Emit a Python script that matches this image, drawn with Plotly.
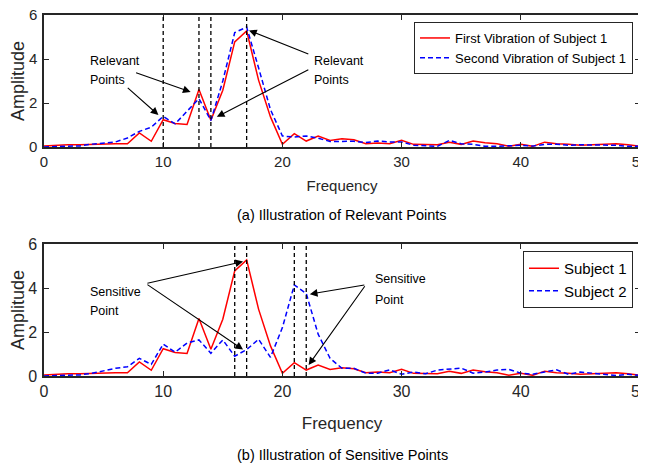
import plotly.graph_objects as go

freq = list(range(0, 51))

first_vib_s1 = [0.05, 0.08, 0.1, 0.1, 0.12, 0.15, 0.15, 0.15, 0.64, 0.26,
                1.24, 1.07, 1.02, 2.61, 1.22, 2.58, 4.78, 5.28, 3.04, 1.37,
                0.12, 0.61, 0.27, 0.50, 0.30, 0.37, 0.33, 0.15, 0.18, 0.15,
                0.30, 0.12, 0.12, 0.10, 0.22, 0.12, 0.27, 0.19, 0.15, 0.04,
                0.12, 0.03, 0.22, 0.15, 0.12, 0.08, 0.10, 0.12, 0.15, 0.10, 0.04]

second_vib_s1 = [0.0, 0.02, 0.03, 0.05, 0.13, 0.18, 0.23, 0.41, 0.71, 0.9,
                 1.39, 1.05, 1.65, 2.2, 1.2, 3.0, 5.2, 5.45, 3.6, 1.7,
                 0.5, 0.45, 0.5, 0.4, 0.25, 0.27, 0.26, 0.2, 0.27, 0.23,
                 0.23, 0.08, 0.06, 0.03, 0.30, 0.15, 0.12, 0.03, 0.03, 0.04,
                 0.08, 0.04, 0.12, 0.12, 0.08, 0.1, 0.1, 0.1, 0.08, 0.03, 0.03]

subject1 = first_vib_s1

subject2 = [0.0, 0.02, 0.03, 0.05, 0.12, 0.25, 0.35, 0.42, 0.8, 0.53,
            1.45, 1.08, 1.5, 1.64, 1.03, 1.64, 0.9, 1.2, 1.67, 0.85,
            2.2, 4.14, 3.75, 1.9, 0.8, 0.35, 0.35, 0.13, 0.13, 0.28,
            0.08, 0.18, 0.1, 0.27, 0.3, 0.36, 0.13, 0.18, 0.27, 0.3,
            0.13, 0.08, 0.18, 0.28, 0.08, 0.18, 0.13, 0.06, 0.02, 0.08, 0.02]

relevant_points = [10, 13, 14, 17]
sensitive_points = [16, 17, 21, 22]

x_ticks = [0, 10, 20, 30, 40, 50]
y_ticks = [0, 2, 4, 6]

# arrows: (head_x, head_y, tail_x, tail_y)
relevant_arrows = [(9.6, 1.45, 6.9, 2.75), (12.3, 2.5, 7.6, 3.4),
                   (17.2, 5.3, 22.3, 4.2), (14.5, 1.37, 22.3, 3.55)]
sensitive_arrows = [(16.7, 5.2, 8.55, 4.2), (16.7, 1.2, 8.55, 4.2),
                    (22.3, 3.72, 27.0, 4.15), (22.2, 0.5, 27.0, 4.15)]

# (x, y, text) of the annotation labels, one line each
relevant_labels = [(3.7, 3.91, "Relevant"), (3.7, 3.05, "Points"),
                   (22.5, 3.91, "Relevant"), (22.5, 3.05, "Points")]
sensitive_labels = [(3.7, 3.82, "Sensitive"), (3.7, 2.95, "Point"),
                    (27.6, 4.41, "Sensitive"), (27.6, 3.45, "Point")]

FONT = "Liberation Sans, Arial, sans-serif"
RED = "#ff0000"
BLUE = "#0000ff"
AX = "#262626"

W, H = 646, 463
OFF = 8  # page body margin offset


def px_x(p):
    return (p - OFF) / W


def px_y(p):
    return 1 - (p - OFF) / H


fig = go.Figure()

fig.add_trace(go.Scatter(x=freq, y=first_vib_s1, mode="lines", name="First Vibration of Subject 1",
                         line=dict(color=RED, width=1.5), xaxis="x", yaxis="y", legend="legend"))
fig.add_trace(go.Scatter(x=freq, y=second_vib_s1, mode="lines", name="Second Vibration of Subject 1",
                         line=dict(color=BLUE, width=1.5, dash="5px,3px"), xaxis="x", yaxis="y", legend="legend"))
fig.add_trace(go.Scatter(x=freq, y=subject1, mode="lines", name="Subject 1",
                         line=dict(color=RED, width=1.5), xaxis="x2", yaxis="y2", legend="legend2"))
fig.add_trace(go.Scatter(x=freq, y=subject2, mode="lines", name="Subject 2",
                         line=dict(color=BLUE, width=1.5, dash="5px,3px"), xaxis="x2", yaxis="y2", legend="legend2"))

shapes = []
for p in relevant_points:
    shapes.append(dict(type="line", xref="x", yref="y domain", x0=p, x1=p, y0=0, y1=1,
                       line=dict(color="black", width=1.3, dash="4px,3px"), layer="above"))
for p in sensitive_points:
    shapes.append(dict(type="line", xref="x2", yref="y2 domain", x0=p, x1=p, y0=0, y1=1,
                       line=dict(color="black", width=1.3, dash="4px,3px"), layer="above"))

annotations = []
for hx, hy, tx, ty in relevant_arrows:
    annotations.append(dict(x=hx, y=hy, ax=tx, ay=ty, xref="x", yref="y", axref="x", ayref="y",
                            text="", showarrow=True, arrowhead=2, arrowsize=1.4, arrowwidth=1.1,
                            arrowcolor="black"))
for hx, hy, tx, ty in sensitive_arrows:
    annotations.append(dict(x=hx, y=hy, ax=tx, ay=ty, xref="x2", yref="y2", axref="x2", ayref="y2",
                            text="", showarrow=True, arrowhead=2, arrowsize=1.4, arrowwidth=1.1,
                            arrowcolor="black"))

lab_font = dict(family=FONT, size=12.5, color="black")
for lx, ly, t in relevant_labels:
    annotations.append(dict(x=lx, y=ly, xref="x", yref="y", text=t, showarrow=False,
                            xanchor="left", yanchor="middle", font=lab_font))
for lx, ly, t in sensitive_labels:
    annotations.append(dict(x=lx, y=ly, xref="x2", yref="y2", text=t, showarrow=False,
                            xanchor="left", yanchor="middle", font=lab_font))

cx = px_x(342)
annotations += [
    dict(x=cx, y=px_y(215), xref="paper", yref="paper", text="(a) Illustration of Relevant Points",
         showarrow=False, xanchor="center", yanchor="middle", font=dict(family=FONT, size=14.5, color="black")),
    dict(x=cx, y=px_y(455), xref="paper", yref="paper", text="(b) Illustration of Sensitive Points",
         showarrow=False, xanchor="center", yanchor="middle", font=dict(family=FONT, size=14.5, color="black")),
]


def xaxis(dom_anchor, size_tick, size_title, standoff, tls):
    return dict(domain=[px_x(44), px_x(640)], anchor=dom_anchor, range=[0, 50], tickvals=x_ticks,
                ticks="inside", ticklen=5, tickcolor=AX, showline=True, linecolor=AX, linewidth=1.5,
                mirror="ticks", showgrid=False, zeroline=False, automargin=False,
                ticklabelstandoff=tls, ticklabeloverflow="allow",
                tickfont=dict(family=FONT, size=size_tick, color=AX),
                title=dict(text="Frequency", font=dict(family=FONT, size=size_title, color=AX),
                           standoff=standoff))


def yaxis(top, bottom, anchor, size_tick, size_title):
    return dict(domain=[px_y(bottom), px_y(top)], anchor=anchor, range=[0, 6], tickvals=y_ticks,
                ticks="inside", ticklen=5, tickcolor=AX, showline=True, linecolor=AX, linewidth=1.5,
                mirror="ticks", showgrid=False, zeroline=False, automargin=False,
                ticklabelstandoff=2, ticklabeloverflow="allow",
                tickfont=dict(family=FONT, size=size_tick, color=AX),
                title=dict(text="Amplitude", font=dict(family=FONT, size=size_title, color=AX), standoff=2))


fig.update_layout(
    width=W, height=H,
    margin=dict(l=0, r=0, t=0, b=0, autoexpand=False),
    paper_bgcolor="white", plot_bgcolor="white",
    xaxis=xaxis("y", 15, 15, 12, 0),
    yaxis=yaxis(15, 147, "x", 15, 18),
    xaxis2=xaxis("y2", 16, 17, 18, 0),
    yaxis2=yaxis(244, 376, "x2", 16, 18),
    shapes=shapes,
    annotations=annotations,
    legend=dict(x=px_x(633), y=px_y(22), xanchor="right", yanchor="top",
                bgcolor="white", bordercolor=AX, borderwidth=1,
                font=dict(family=FONT, size=13, color="black"), tracegroupgap=0,
                itemwidth=30),
    legend2=dict(x=px_x(633), y=px_y(251), xanchor="right", yanchor="top",
                 bgcolor="white", bordercolor=AX, borderwidth=1,
                 font=dict(family=FONT, size=15, color="black"), tracegroupgap=0,
                 itemwidth=30),
    showlegend=True,
)

fig.write_html("out.html")
